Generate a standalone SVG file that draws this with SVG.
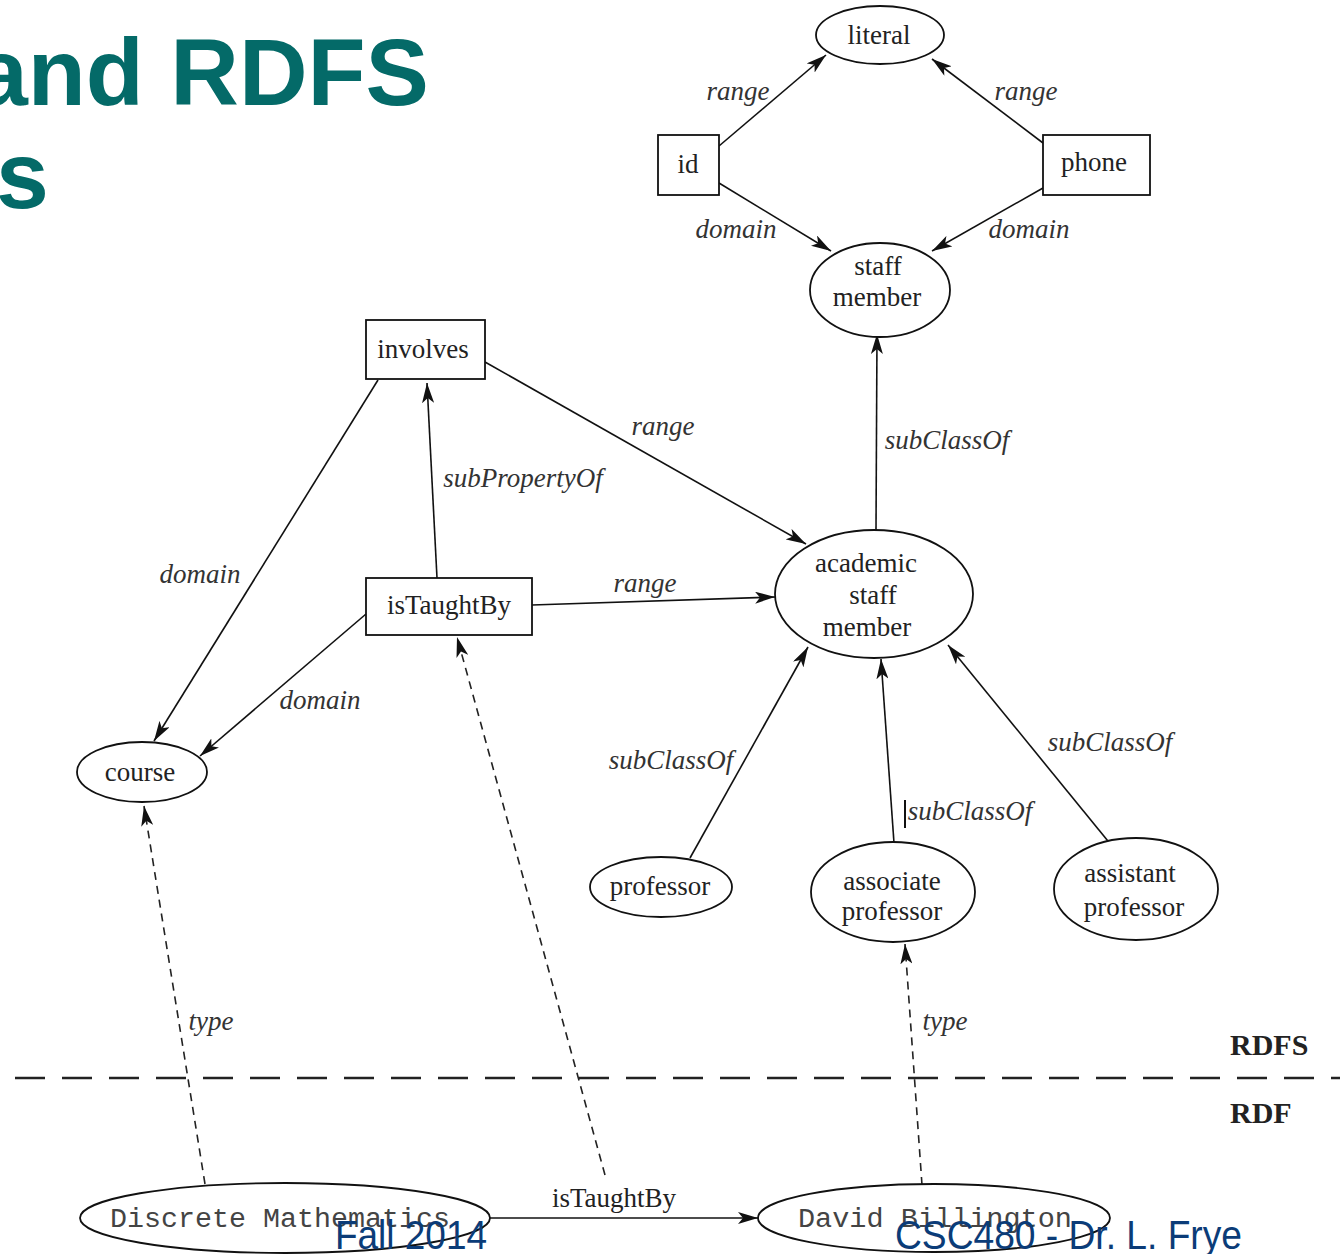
<svg xmlns="http://www.w3.org/2000/svg" width="1340" height="1254" viewBox="0 0 1340 1254">
<defs>
<marker id="arr" markerUnits="userSpaceOnUse" markerWidth="20" markerHeight="12" refX="20" refY="6" orient="auto">
<path d="M0,0 L20,6 L0,12 L5,6 z" fill="#111"/>
</marker>
<style>
.node{fill:#fff;stroke:#111;stroke-width:1.8}
.t{font-family:"Liberation Serif","Times New Roman",serif;font-size:27px;fill:#222;text-anchor:middle}
.lbl{font-family:"Liberation Serif","Times New Roman",serif;font-size:27px;font-style:italic;fill:#333;text-anchor:middle}
.mono{font-family:"Liberation Mono","Courier New",monospace;font-size:27px;fill:#444}
.e{stroke:#111;stroke-width:1.6;fill:none;marker-end:url(#arr)}
.d{stroke:#222;stroke-width:1.6;fill:none;stroke-dasharray:8 6;marker-end:url(#arr)}
.title{font-family:"Liberation Sans",Arial,sans-serif;font-weight:bold;font-size:95px;fill:#046a68}
.foot{font-family:"Liberation Sans",Arial,sans-serif;font-size:40px;fill:#0b3c78}
.layer{font-family:"Liberation Serif","Times New Roman",serif;font-weight:bold;font-size:30px;fill:#222}
</style>
</defs>
<rect width="1340" height="1254" fill="#fff"/>
<text class="title" x="-25" y="105">and RDFS</text>
<text class="title" x="-4" y="208">s</text>

<g id="connectors">
<path class="e" d="M719,146 L826,55"/>
<path class="e" d="M1043,143 L932,59"/>
<path class="e" d="M719,183 L831,251"/>
<path class="e" d="M1043,188 L932,251"/>
<path class="e" d="M876,530 L877,334"/>
<path class="e" d="M485,362 L806,544"/>
<path class="e" d="M532,605 L775,597"/>
<path class="e" d="M437,578 L427,383"/>
<path class="e" d="M378,380 L154,741"/>
<path class="e" d="M366,614 L200,756"/>
<path class="e" d="M690,858 L808,647"/>
<path class="e" d="M894,843 L881,659"/>
<path class="e" d="M1112,846 L948,645"/>
<path class="d" d="M205,1184 L144,806"/>
<path class="d" d="M605,1175 L457,637"/>
<path class="d" d="M922,1185 L905,944"/>
<path class="e" d="M490,1218 L758,1218"/>
<path d="M15,1078 L1340,1078" stroke="#222" stroke-width="2.5" stroke-dasharray="30 17" fill="none"/>
<line x1="905" y1="800" x2="905" y2="828" stroke="#111" stroke-width="2"/>
<text class="lbl" x="738" y="100">range</text>
<text class="lbl" x="1026" y="100">range</text>
<text class="lbl" x="736" y="238">domain</text>
<text class="lbl" x="1029" y="238">domain</text>
<text class="lbl" x="663" y="435">range</text>
<text class="lbl" x="523" y="487">subPropertyOf</text>
<text class="lbl" x="645" y="592">range</text>
<text class="lbl" x="200" y="583">domain</text>
<text class="lbl" x="320" y="709">domain</text>
<text class="lbl" x="947" y="449">subClassOf</text>
<text class="lbl" x="671" y="769">subClassOf</text>
<text class="lbl" x="970" y="820">subClassOf</text>
<text class="lbl" x="1110" y="751">subClassOf</text>
<text class="lbl" x="211" y="1030">type</text>
<text class="lbl" x="945" y="1030">type</text>
<text class="t" x="614" y="1207">isTaughtBy</text>
</g>

<g id="literal"><ellipse class="node" cx="880" cy="35" rx="64" ry="29"/><text class="t" x="879" y="44">literal</text></g>
<g id="id"><rect class="node" x="658" y="135" width="61" height="60"/><text class="t" x="688" y="173">id</text></g>
<g id="phone"><rect class="node" x="1043" y="135" width="107" height="60"/><text class="t" x="1094" y="171">phone</text></g>
<g id="staff-member"><ellipse class="node" cx="880" cy="290" rx="70" ry="47"/><text class="t" x="878" y="275">staff</text><text class="t" x="877" y="306">member</text></g>
<g id="involves"><rect class="node" x="366" y="320" width="119" height="59"/><text class="t" x="423" y="358">involves</text></g>
<g id="isTaughtBy"><rect class="node" x="366" y="578" width="166" height="57"/><text class="t" x="449" y="614">isTaughtBy</text></g>
<g id="academic-staff-member"><ellipse class="node" cx="874" cy="594" rx="99" ry="64"/><text class="t" x="866" y="572">academic</text><text class="t" x="873" y="604">staff</text><text class="t" x="867" y="636">member</text></g>
<g id="course"><ellipse class="node" cx="142" cy="772" rx="65" ry="30"/><text class="t" x="140" y="781">course</text></g>
<g id="professor"><ellipse class="node" cx="661" cy="887" rx="71" ry="30"/><text class="t" x="660" y="895">professor</text></g>
<g id="associate-professor"><ellipse class="node" cx="893" cy="892" rx="82" ry="50"/><text class="t" x="892" y="890">associate</text><text class="t" x="892" y="920">professor</text></g>
<g id="assistant-professor"><ellipse class="node" cx="1136" cy="889" rx="82" ry="51"/><text class="t" x="1130" y="882">assistant</text><text class="t" x="1134" y="916">professor</text></g>
<g id="discrete-mathematics"><ellipse class="node" cx="285" cy="1218" rx="205" ry="35"/><text class="mono" x="110" y="1227" textLength="340" lengthAdjust="spacingAndGlyphs">Discrete Mathematics</text></g>
<g id="david-billington"><ellipse class="node" cx="934" cy="1218" rx="176" ry="34"/><text class="mono" x="798" y="1227" textLength="274" lengthAdjust="spacingAndGlyphs">David Billington</text></g>

<text class="layer" x="1230" y="1055">RDFS</text>
<text class="layer" x="1230" y="1123">RDF</text>
<text class="foot" x="335" y="1249" textLength="152" lengthAdjust="spacingAndGlyphs">Fall 2014</text>
<text class="foot" x="895" y="1249" textLength="347" lengthAdjust="spacingAndGlyphs">CSC480 - Dr. L. Frye</text>
</svg>
